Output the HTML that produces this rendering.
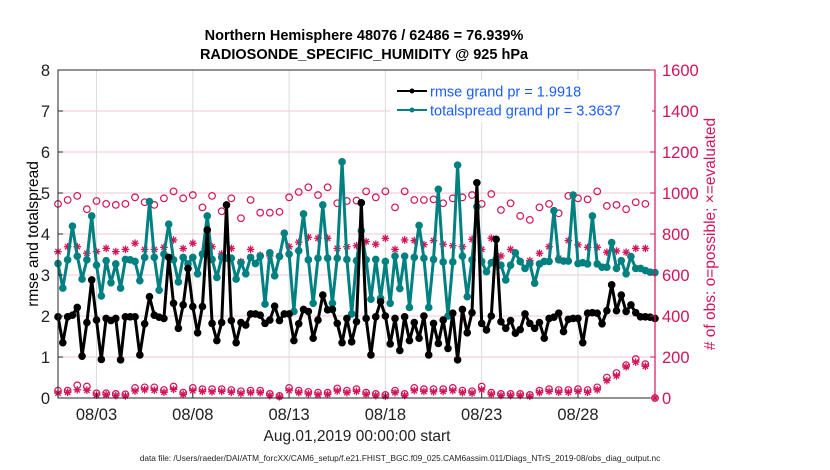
<!DOCTYPE html>
<html><head><meta charset="utf-8"><style>
body{margin:0;background:#fff;}
svg{display:block;font-family:"Liberation Sans",sans-serif;}
</style></head><body>
<svg id="chart" width="830" height="470" viewBox="0 0 830 470">
<g id="grid"></g>
<g id="marks"></g>
<g id="axes"></g>
<text x="364" y="40" text-anchor="middle" font-size="14.5" font-weight="bold">Northern Hemisphere 48076 / 62486 = 76.939%</text>
<text x="364" y="59" text-anchor="middle" font-size="14.5" font-weight="bold">RADIOSONDE_SPECIFIC_HUMIDITY @ 925 hPa</text>
<text transform="translate(38,234) rotate(-90)" text-anchor="middle" font-size="15.5">rmse and totalspread</text>
<text transform="translate(715,234) rotate(-90)" text-anchor="middle" font-size="15.5" fill="#d2145a"># of obs: o=possible; ×=evaluated</text>
<text x="357" y="441" text-anchor="middle" font-size="15.5" fill="#222">Aug.01,2019 00:00:00 start</text>
<text x="400" y="461" text-anchor="middle" font-size="8.3" fill="#222">data file: /Users/raeder/DAI/ATM_forcXX/CAM6_setup/f.e21.FHIST_BGC.f09_025.CAM6assim.011/Diags_NTrS_2019-08/obs_diag_output.nc</text>
<g>
<rect x="390" y="80" width="262" height="42" fill="#fff"/>
<line x1="397" y1="91" x2="427" y2="91" stroke="#000" stroke-width="2"/>
<circle cx="412" cy="91" r="2.5" fill="#000"/>
<text x="430" y="96.5" font-size="14.5" fill="#1a5cff">rmse grand pr = 1.9918</text>
<line x1="397" y1="110" x2="427" y2="110" stroke="#008080" stroke-width="2"/>
<circle cx="412" cy="110" r="2.5" fill="#008080"/>
<text x="430" y="115.5" font-size="14.5" fill="#1a5cff">totalspread grand pr = 3.3637</text>
</g>
</svg>
<script>
const rmse = [1.98,1.35,1.98,2.02,2.21,1.02,1.84,2.88,1.90,0.94,1.94,1.89,1.94,0.93,1.98,1.98,1.98,1.05,1.81,2.47,2.02,1.97,1.94,3.43,2.31,1.70,2.27,3.16,2.23,1.59,2.23,4.10,1.82,1.40,1.84,4.71,1.89,1.35,1.84,1.78,2.05,2.05,2.02,1.82,
1.90,2.24,1.89,2.05,2.05,1.40,1.81,2.16,2.11,1.46,1.90,2.51,2.15,2.16,1.82,1.35,1.94,1.37,1.86,4.76,1.94,1.05,1.98,2.35,2.0,1.32,1.94,1.16,1.98,1.40,1.84,1.46,2.0,1.05,1.82,1.33,1.90,1.21,2.07,0.93,2.16,
1.59,2.08,5.25,1.82,1.66,2.0,3.87,1.86,1.70,1.89,1.58,1.67,2.05,1.82,1.70,1.84,1.46,1.94,1.97,2.07,1.62,1.92,1.94,1.94,1.35,2.07,2.08,2.07,1.81,2.13,2.76,2.13,2.51,2.11,2.27,2.08,1.98,1.98,1.97,1.94];
const totalspread = [3.28,2.68,3.37,4.19,3.46,2.9,3.37,4.44,3.24,2.49,3.35,2.81,3.27,2.68,3.38,3.37,3.33,2.86,3.43,4.79,3.43,2.63,3.51,4.24,3.37,2.83,3.43,3.27,3.43,3.03,3.51,4.44,3.38,2.94,3.43,3.41,3.41,2.9,3.3,3.03,3.43,3.28,3.46,2.29,
3.54,2.98,3.45,4.02,3.51,2.11,3.59,4.49,3.37,2.31,3.41,4.71,3.41,2.31,3.41,5.76,3.38,2.05,3.35,4.08,3.37,2.41,3.38,2.43,3.33,2.31,3.46,2.67,3.46,2.21,3.43,4.21,3.41,2.21,3.38,5.09,3.32,2.0,3.32,5.68,3.46,
2.47,3.37,4.67,3.33,3.08,3.3,3.38,3.24,2.88,3.24,3.54,3.33,3.16,3.28,2.8,3.27,3.33,3.33,4.57,3.37,3.34,3.34,4.95,3.28,3.3,3.27,4.44,3.27,3.19,3.19,3.79,3.16,3.35,3.03,3.45,3.16,3.16,3.11,3.07,3.06];
const possibleTop = [947,966,986,921,961,947,942,947,979,955,942,974,1008,974,990,930,986,911,974,877,966,904,
904,908,979,1005,1028,990,1028,950,961,963,1008,979,1008,930,1008,966,966,969,950,974,979,
990,947,995,917,950,888,869,930,947,901,986,974,969,1008,937,942,921,955,947,0];
const evaluatedTop = [714,738,738,706,714,730,714,725,755,725,725,735,771,729,755,703,738,703,730,665,725,696,
693,693,738,760,784,779,779,730,738,743,763,750,779,725,771,768,748,768,750,743,738,
774,725,779,693,725,665,670,706,738,682,768,747,735,735,711,717,711,730,730,0];
const possibleLow = [36,36,62,56,23,23,20,18,49,52,52,39,56,26,49,43,43,43,39,33,36,36,
20,10,49,36,30,26,26,46,36,43,26,20,15,36,20,49,43,43,43,49,36,
33,56,26,20,20,20,15,36,43,39,39,43,39,52,100,122,160,190,165,0];
const evaluatedLow = [24,28,40,38,14,16,12,10,34,40,38,28,42,18,36,32,30,32,28,22,26,26,
12,6,36,26,20,16,18,34,26,32,18,12,8,26,12,36,32,30,32,36,26,
24,40,18,12,12,12,8,26,32,28,28,32,28,40,85,108,152,175,155,0];
const yTicksLeft = ["0","1","2","3","4","5","6","7","8"];
const yTicksRight = ["0","200","400","600","800","1000","1200","1400","1600"];
const xTickLabels = ["08/03","08/08","08/13","08/18","08/23","08/28"];
const xTickDays = [2,7,12,17,22,27];

const L=58,R=655,T=70,B=398;
const X=d=>L+d*(R-L)/31;
const Y=v=>B-v*(B-T)/8;
const YR=c=>B-c*(B-T)/1600;
const NS="http://www.w3.org/2000/svg";
function mk(tag,attrs,parent){const e=document.createElementNS(NS,tag);for(const k in attrs)e.setAttribute(k,attrs[k]);parent.appendChild(e);return e;}
const grid=document.getElementById('grid'),marks=document.getElementById('marks'),axes=document.getElementById('axes');
const red="#d2145a";
yTicksRight.forEach((t,i)=>{const y=YR(+t);const g=mk('line',{x1:L,x2:R,y1:y,y2:y,stroke:"#f3c6d6","stroke-width":1},grid);

});
xTickDays.forEach(d=>{const g=mk('line',{x1:X(d),x2:X(d),y1:T,y2:B,stroke:"#dcdcdc","stroke-width":1},grid);

});
function circ(d,c){const e=mk('circle',{cx:X(d),cy:YR(c),r:3.3,fill:"none",stroke:red,"stroke-width":1.2},marks);

}
function star(d,c){const x=X(d),y=YR(c),r=3.8;const g=mk('g',{stroke:red,"stroke-width":1.3},marks);


mk('line',{x1:x-r,x2:x+r,y1:y,y2:y},g);mk('line',{x1:x,x2:x,y1:y-r,y2:y+r},g);
mk('line',{x1:x-r*.7,x2:x+r*.7,y1:y-r*.7,y2:y+r*.7},g);mk('line',{x1:x-r*.7,x2:x+r*.7,y1:y+r*.7,y2:y-r*.7},g);}
possibleTop.forEach((c,i)=>{if(c>0)circ(i*0.5,c);});
evaluatedTop.forEach((c,i)=>{if(c>0)star(i*0.5,c);});
possibleLow.forEach((c,i)=>circ(i*0.5,c));
evaluatedLow.forEach((c,i)=>star(i*0.5,c));
function series(vals,col,name){const pts=vals.map((v,i)=>X(i*0.25).toFixed(1)+","+Y(v).toFixed(1)).join(" ");
const p=mk('polyline',{points:pts,fill:"none",stroke:col,"stroke-width":3,"stroke-linejoin":"round"},marks);


vals.forEach((v,i)=>{const c=mk('circle',{cx:X(i*0.25),cy:Y(v),r:3.8,fill:col},marks);

});}
series(totalspread,"#008080","totalspread");
series(rmse,"#000","rmse");
mk('rect',{x:L,y:T,width:R-L,height:B-T,fill:"none",stroke:"#262626","stroke-width":1},axes);
mk('line',{x1:R,x2:R,y1:T,y2:B,stroke:red,"stroke-width":1.2},axes);
yTicksLeft.forEach(t=>{const y=Y(+t);mk('line',{x1:L,x2:L+5,y1:y,y2:y,stroke:"#262626"},axes);
const e=mk('text',{x:L-8,y:y+6,"text-anchor":"end","font-size":16.5,fill:"#222"},axes);e.textContent=t;

});
yTicksRight.forEach(t=>{const y=YR(+t);mk('line',{x1:R-5,x2:R,y1:y,y2:y,stroke:red},axes);
const e=mk('text',{x:R+7,y:y+6,"font-size":16.5,fill:red},axes);e.textContent=t;

});
xTickDays.forEach((d,i)=>{mk('line',{x1:X(d),x2:X(d),y1:B,y2:B-5,stroke:"#262626"},axes);
const e=mk('text',{x:X(d),y:B+22,"text-anchor":"middle","font-size":16.5,fill:"#222"},axes);e.textContent=xTickLabels[i];

});
</script>
</body></html>
